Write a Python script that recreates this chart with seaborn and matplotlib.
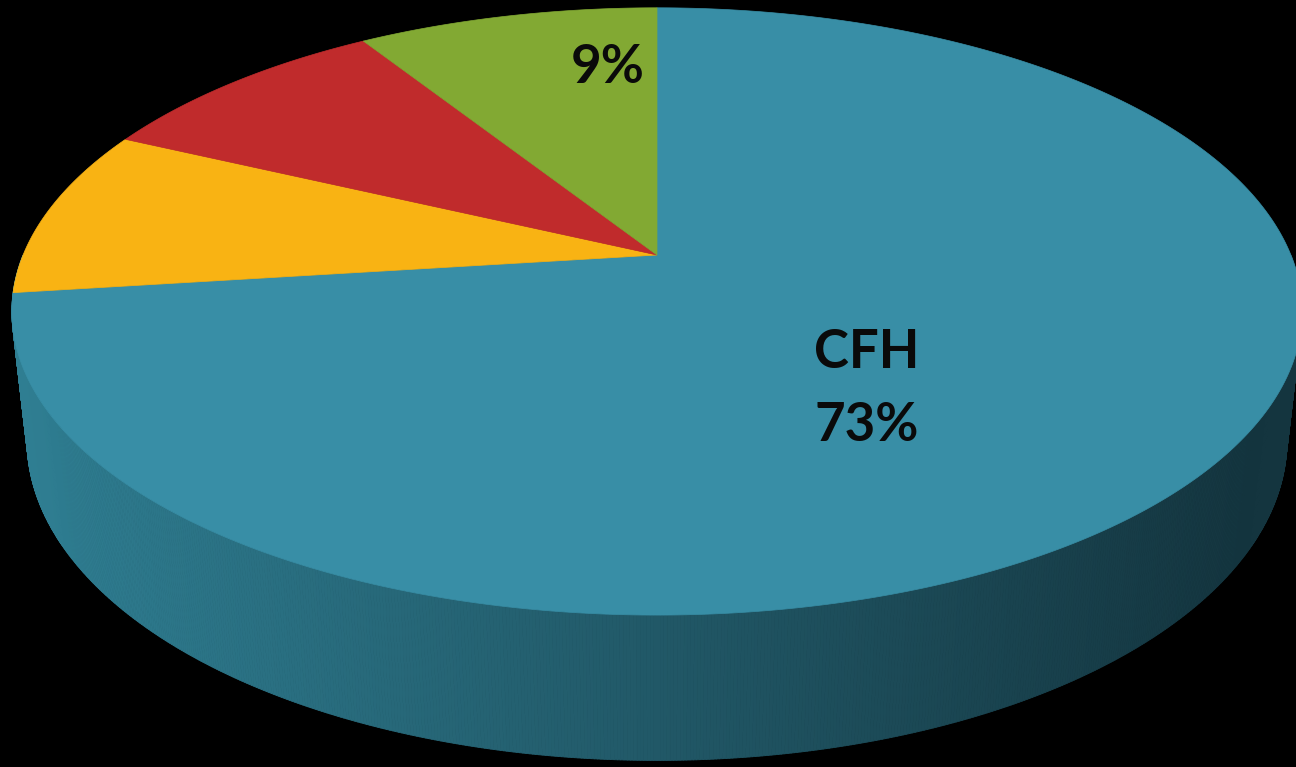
import numpy as np
import matplotlib
matplotlib.use("Agg")
import matplotlib.pyplot as plt
from matplotlib.collections import PolyCollection
from matplotlib.colors import to_rgb
import seaborn as sns

# Slice data (clockwise from 12 o'clock)
categories = ["CFH", "B", "C", "D"]
shares = [73, 9, 9, 9]
slice_labels = ["CFH\n73%", "", "", "9%"]
slice_colors = ["#388EA6", "#F9B313", "#C02B2C", "#82A933"]

# Label anchors on the pie plane: (radius, angle in degrees)
label_anchor = {0: (0.52, -54.0), 3: (0.73, 97.0)}

sns.set_theme(style="dark", rc={"figure.facecolor": "black", "axes.facecolor": "black"})
plt.rcParams["font.family"] = ["Lato", "DejaVu Sans"]

W, H = 1296, 767
fig = plt.figure(figsize=(W / 100, H / 100), dpi=100)
ax = fig.add_axes([0, 0, 1, 1])
ax.set_xlim(0, W)
ax.set_ylim(H, 0)
ax.axis("off")

# Perspective camera for the tilted disc
elev = np.deg2rad(28.0)
se, ce = np.sin(elev), np.cos(elev)
D = 4.75
fx, fy = 3011.0, 2966.0
cx, cy = 657.0, 255.0
thick = 0.236


def project(x, d, z):
    v = d * se + z * ce
    w = D + d * ce - z * se
    return cx + fx * x / w, cy - fy * v / w


def rim(theta, z=0.0, r=1.0):
    return project(r * np.cos(theta), r * np.sin(theta), z)


# Side wall of the front half, shaded left-to-right
side_light = np.array(to_rgb("#2F7E92"))
side_dark = np.array(to_rgb("#14353F"))
th = np.linspace(np.pi, 2 * np.pi, 721)
quads, qcols = [], []
for a, b in zip(th[:-1], th[1:]):
    x1, y1 = rim(a)
    x2, y2 = rim(b)
    x3, y3 = rim(b, -thick)
    x4, y4 = rim(a, -thick)
    quads.append([(x1, y1), (x2, y2), (x3, y3), (x4, y4)])
    t = np.clip(((x1 + x2) / 2 - 20) / (W - 60), 0, 1)
    qcols.append(side_light * (1 - t) + side_dark * t)
ax.add_collection(PolyCollection(quads, facecolors=qcols, edgecolors=qcols, linewidths=0.6))

# Top face slices
fracs = np.array(shares, dtype=float) / np.sum(shares)
start = np.pi / 2
for i, f in enumerate(fracs):
    end = start - f * 2 * np.pi
    ang = np.linspace(start, end, 400)
    xs, ys = rim(ang)
    px, py = project(0.0, 0.0, 0.0)
    poly = np.column_stack([np.r_[px, xs], np.r_[py, ys]])
    ax.fill(poly[:, 0], poly[:, 1], color=slice_colors[i], lw=0.5, ec=slice_colors[i], zorder=3)
    start = end

# Data labels
for i, txt in enumerate(slice_labels):
    if not txt:
        continue
    r, a = label_anchor[i]
    a = np.deg2rad(a)
    lx, ly = project(r * np.cos(a), r * np.sin(a), 0.0)
    lines = txt.split("\n")
    n = len(lines)
    for k, line in enumerate(lines):
        ax.text(lx, ly + (k - (n - 1) / 2) * 73, line, ha="center", va="center",
                fontsize=38, fontweight="bold", color="#0A0A0A", zorder=5)

fig.savefig("out.png", dpi=100, facecolor="black")
